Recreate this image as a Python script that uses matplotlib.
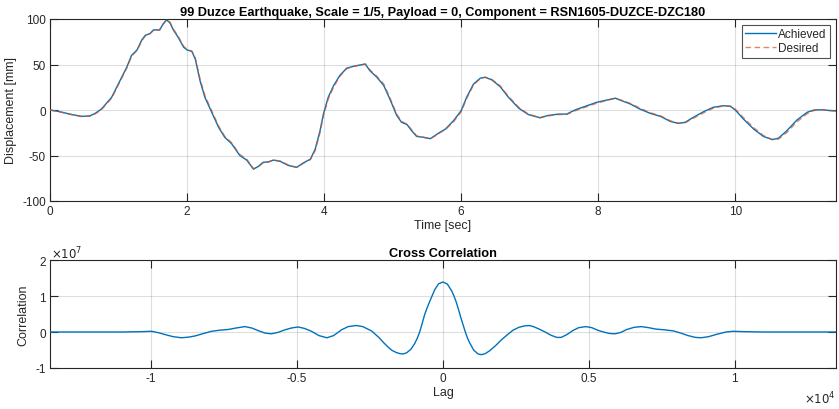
import matplotlib
matplotlib.use("Agg")
import matplotlib.pyplot as plt
from matplotlib.ticker import FuncFormatter, FixedLocator

# Displacement history (time in seconds, displacement in mm)
time_s = [0.00, 0.12, 0.32, 0.46, 0.58, 0.66, 0.75, 0.90, 1.02, 1.12, 1.19, 1.27,
          1.34, 1.39, 1.46, 1.51, 1.60, 1.65, 1.70, 1.75, 1.80, 1.87, 1.95, 2.00,
          2.07, 2.12, 2.19, 2.26, 2.36, 2.46, 2.55, 2.65, 2.77, 2.87, 2.97, 3.04,
          3.11, 3.19, 3.26, 3.36, 3.48, 3.60, 3.70, 3.80, 3.87, 3.94, 3.99, 4.06,
          4.14, 4.23, 4.33, 4.43, 4.53, 4.60, 4.67, 4.77, 4.87, 4.96, 5.06, 5.13,
          5.21, 5.28, 5.35, 5.45, 5.55, 5.62, 5.69, 5.77, 5.89, 6.00, 6.08, 6.18,
          6.28, 6.35, 6.45, 6.57, 6.69, 6.84, 6.98, 7.15, 7.27, 7.42, 7.54, 7.66,
          7.81, 7.98, 8.13, 8.25, 8.35, 8.47, 8.61, 8.76, 8.91, 9.05, 9.17, 9.27,
          9.39, 9.54, 9.68, 9.83, 9.93, 10.00, 10.12, 10.27, 10.41, 10.54, 10.63,
          10.75, 10.90, 11.05, 11.15, 11.27, 11.39, 11.47]

achieved_mm = [0.0, -1.5, -5.0, -7.0, -6.5, -3.7, 1.0, 14.0, 32.0, 47.0, 60.0, 66.0,
               77.0, 82.0, 84.0, 88.0, 88.0, 94.5, 99.0, 96.0, 88.0, 80.0, 69.0, 66.0,
               64.5, 56.0, 32.0, 14.0, -2.5, -19.0, -30.0, -37.0, -50.0, -55.0, -65.0, -62.0,
               -57.5, -57.0, -55.0, -56.5, -61.0, -63.0, -58.0, -54.0, -43.0, -23.0, -4.5, 14.0,
               27.0, 38.0, 46.0, 48.0, 49.5, 50.5, 43.0, 36.0, 27.0, 12.0, -6.0, -13.5,
               -16.0, -23.0, -29.0, -30.0, -31.5, -28.0, -24.5, -21.0, -11.7, -0.7, 14.0, 28.5,
               35.0, 36.0, 33.0, 25.6, 14.0, 2.0, -5.0, -8.5, -6.0, -4.5, -4.5, 0.0,
               4.0, 8.5, 11.0, 13.0, 10.0, 6.6, 1.0, -3.7, -7.0, -12.5, -14.7, -13.5,
               -8.0, -1.8, 3.0, 4.7, 4.0, 0.0, -10.0, -21.0, -29.0, -32.5, -31.0,
               -23.0, -11.0, -2.5, 0.0, 0.3, -0.7, -1.0]

desired_mm = [0.0, -1.6, -5.2, -7.2, -6.8, -4.2, 0.3, 13.0, 31.0, 46.0, 59.0, 65.5,
              76.0, 81.5, 84.0, 87.5, 88.0, 94.0, 99.0, 96.5, 89.0, 81.0, 70.0, 66.5,
              64.5, 57.5, 34.0, 16.0, -1.0, -17.5, -29.0, -36.0, -49.0, -54.0, -64.5, -62.5,
              -58.0, -57.0, -55.0, -56.0, -60.5, -63.0, -58.5, -54.5, -44.5, -25.0, -6.5, 12.0,
              25.5, 37.0, 45.5, 48.0, 49.5, 50.5, 44.0, 37.0, 28.5, 13.5, -4.5, -12.5,
              -15.5, -22.0, -28.5, -30.0, -31.5, -28.5, -25.0, -21.5, -12.8, -2.0, 12.5, 27.5,
              34.5, 36.0, 33.5, 26.5, 15.0, 3.0, -4.5, -8.5, -6.5, -5.0, -5.0, -1.0,
              3.0, 7.5, 10.5, 12.8, 10.5, 7.2, 2.0, -3.0, -6.5, -11.8, -14.5, -14.0,
              -9.0, -3.0, 2.0, 4.5, 4.3, 1.0, -8.5, -19.5, -28.0, -32.5, -32.0,
              -25.0, -13.0, -4.0, -0.5, 0.4, -0.5, -1.0]

# Cross correlation of achieved vs desired (lag in samples)
lag_samples = [-13470, -11000, -10300, -9990, -9750, -9530, -9250, -8960, -8700, -8500,
               -8200, -7930, -7650, -7360, -7100, -6790, -6550, -6340, -6100, -5880,
               -5650, -5420, -5200, -4970, -4750, -4510, -4250, -3980, -3750, -3480,
               -3250, -2970, -2750, -2450, -2200, -2030, -1880, -1750, -1600, -1480,
               -1370, -1250, -1100, -970, -880, -800, -720, -630, -540, -450,
               -360, -280, -150, 0,
               150, 300, 380, 450, 530, 600, 680, 750, 830, 900,
               1050, 1200, 1320, 1450, 1600, 1800, 2000, 2200, 2400, 2600,
               2800, 2950, 3100, 3300, 3500, 3700, 3900, 4050, 4250, 4450,
               4650, 4900, 5100, 5300, 5500, 5700, 5900, 6100, 6300, 6550,
               6800, 7050, 7300, 7600, 7900, 8150, 8400, 8650, 8850, 9100,
               9400, 9700, 9950, 10300, 11000, 12000, 13470]

correlation = [0.0, 0.0, 0.01e7, 0.02e7, -0.02e7, -0.07e7, -0.13e7, -0.16e7, -0.14e7, -0.11e7,
               -0.04e7, 0.02e7, 0.05e7, 0.07e7, 0.11e7, 0.15e7, 0.11e7, 0.04e7, -0.03e7, -0.05e7,
               -0.01e7, 0.06e7, 0.11e7, 0.14e7, 0.10e7, 0.02e7, -0.10e7, -0.16e7, -0.10e7, 0.06e7,
               0.15e7, 0.18e7, 0.15e7, 0.03e7, -0.15e7, -0.30e7, -0.42e7, -0.51e7, -0.57e7, -0.60e7,
               -0.61e7, -0.58e7, -0.48e7, -0.32e7, -0.17e7, 0.0e7, 0.22e7, 0.48e7, 0.68e7, 0.86e7,
               1.03e7, 1.18e7, 1.34e7, 1.39e7,
               1.33e7, 1.14e7, 0.99e7, 0.84e7, 0.63e7, 0.43e7, 0.22e7, 0.04e7, -0.15e7, -0.28e7,
               -0.50e7, -0.61e7, -0.63e7, -0.60e7, -0.52e7, -0.38e7, -0.22e7, -0.08e7, 0.05e7, 0.13e7,
               0.17e7, 0.18e7, 0.15e7, 0.08e7, 0.0, -0.09e7, -0.15e7, -0.15e7, -0.07e7, 0.04e7,
               0.12e7, 0.15e7, 0.12e7, 0.05e7, 0.0, -0.04e7, -0.05e7, -0.01e7, 0.07e7, 0.13e7,
               0.15e7, 0.12e7, 0.08e7, 0.06e7, 0.03e7, -0.03e7, -0.10e7, -0.15e7, -0.16e7, -0.13e7,
               -0.06e7, 0.0, 0.02e7, 0.01e7, 0.0, 0.0, 0.0]

title_top = "99 Duzce Earthquake, Scale = 1/5, Payload = 0, Component = RSN1605-DUZCE-DZC180"
title_bottom = "Cross Correlation"

plt.rcParams['font.family'] = ['Liberation Sans', 'DejaVu Sans']
plt.rcParams['axes.unicode_minus'] = False

BLUE = "#0072BD"
ORANGE = "#D95319"
AXCOL = "#262626"

fig = plt.figure(figsize=(8.39, 4.10), dpi=100)
W, H = 839, 410


def px_axes(l, t, r, b):
    return fig.add_axes([l / W, 1 - b / H, (r - l) / W, (b - t) / H])


def style(ax):
    for s in ax.spines.values():
        s.set_color(AXCOL)
        s.set_linewidth(0.8)
    ax.tick_params(direction='in', length=5.7, width=0.8, colors=AXCOL,
                   labelsize=8.5, top=True, right=True, pad=3)
    ax.grid(True, color='#262626', alpha=0.15, linewidth=0.8)
    ax.set_axisbelow(True)


ax1 = px_axes(50, 20, 836, 202)
style(ax1)
ax1.plot(time_s, achieved_mm, color=BLUE, lw=1.0, label='Achieved', zorder=3)
ax1.plot(time_s, desired_mm, color=ORANGE, lw=1.0, ls=(0, (4, 2.5)), alpha=0.7,
         label='Desired', zorder=4)
ax1.set_xlim(0, 11.47)
ax1.set_ylim(-100, 100)
ax1.set_xticks([0, 2, 4, 6, 8, 10])
ax1.set_yticks([-100, -50, 0, 50, 100])
ax1.set_xlabel('Time [sec]', fontsize=9, color=AXCOL, labelpad=1)
ax1.set_ylabel('Displacement [mm]', fontsize=9, color=AXCOL, labelpad=4)
ax1.set_title(title_top, fontsize=9.2, fontweight='bold', color='black', pad=3)
leg = ax1.legend(loc='upper right', fontsize=8.5, frameon=True, fancybox=False,
                 borderpad=0.3, handlelength=2.6, handletextpad=0.2,
                 labelspacing=0.15, borderaxespad=0.5)
leg.get_frame().set_edgecolor(AXCOL)
leg.get_frame().set_linewidth(0.8)
for t in leg.get_texts():
    t.set_color(AXCOL)

ax2 = px_axes(50, 261, 836, 369)
style(ax2)
ax2.plot(lag_samples, correlation, color=BLUE, lw=1.0, zorder=3)
ax2.set_xlim(-13470, 13470)
ax2.set_ylim(-1e7, 2e7)
ax2.xaxis.set_major_locator(FixedLocator([-10000, -5000, 0, 5000, 10000]))
ax2.yaxis.set_major_locator(FixedLocator([-1e7, 0, 1e7, 2e7]))
ax2.xaxis.set_major_formatter(FuncFormatter(lambda v, p: f"{v / 1e4:g}"))
ax2.yaxis.set_major_formatter(FuncFormatter(lambda v, p: f"{v / 1e7:g}"))
ax2.set_xlabel('Lag', fontsize=9, color=AXCOL, labelpad=1)
ax2.set_ylabel('Correlation', fontsize=9, color=AXCOL, labelpad=4)
ax2.set_title(title_bottom, fontsize=9.2, fontweight='bold', color='black', pad=3)
fig.text(51 / W, 1 - 259 / H, r'$\times10^{7}$', ha='left', va='baseline',
         fontsize=8.5, color=AXCOL)
fig.text(836 / W, 1 - 404 / H, r'$\times10^{4}$', ha='right', va='baseline',
         fontsize=8.5, color=AXCOL)

fig.savefig('out.png', dpi=100, facecolor='white')
